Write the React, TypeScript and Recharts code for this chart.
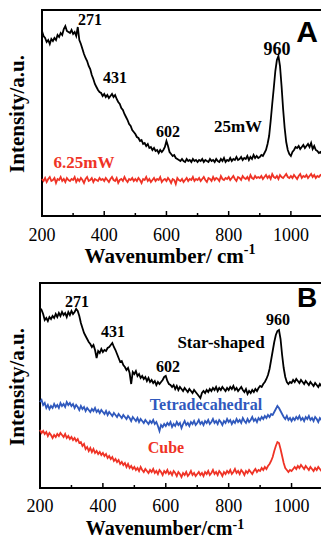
import React from 'react';
import { LineChart, Line, XAxis, YAxis, ReferenceArea } from 'recharts';

// wavenumber grid, cm^-1 (every 5 from 200 to 1100)
const wavenumbers = Array.from({ length: 181 }, (_, i) => 200 + i * 5);

// Panel A, 25mW (intensity, a.u.)
const power25 = [
  185, 180, 178, 174, 176, 172, 177, 175, 178, 176, 181, 179, 183, 181, 187, 190, 185, 184, 183, 186,
  182, 184, 180, 189, 176, 172, 167, 162, 158, 155, 150, 147, 141, 137, 132, 129, 126, 124, 123, 120,
  122, 119, 121, 118, 120, 122, 119, 121, 117, 114, 112, 108, 106, 102, 99, 96, 92, 90, 86, 84,
  82, 79, 78, 75, 76, 72, 73, 70, 72, 68, 69, 66, 68, 65, 66, 63, 66, 64, 66, 69,
  75, 70, 64, 62, 60, 61, 58, 57, 56, 55, 57, 55, 54, 57, 55, 56, 54, 57, 55, 56,
  54, 56, 55, 57, 54, 56, 55, 54, 57, 55, 56, 54, 57, 55, 54, 57, 55, 58, 54, 56,
  55, 58, 55, 57, 56, 59, 56, 57, 59, 56, 58, 57, 60, 56, 59, 57, 61, 58, 60, 58,
  59, 61, 60, 63, 66, 72, 80, 95, 112, 128, 145, 156, 160, 150, 130, 107, 88, 74, 66, 62,
  60, 64, 66, 69, 68, 70, 67, 69, 71, 68, 70, 72, 69, 73, 67, 70, 66, 65, 63, 64,
  62,
];

// Panel A, 6.25mW
const power625 = [
  37, 35, 38, 34, 37, 39, 35, 36, 38, 33, 37, 36, 39, 35, 37, 34, 38, 36, 35, 37,
  36, 39, 34, 37, 35, 38, 36, 33, 37, 39, 35, 36, 38, 34, 37, 36, 35, 38, 36, 37,
  35, 38, 36, 34, 37, 39, 36, 35, 38, 33, 36, 37, 35, 39, 36, 34, 37, 36, 38, 35,
  37, 35, 38, 36, 33, 37, 36, 39, 35, 37, 34, 36, 38, 35, 37, 36, 39, 34, 36, 37,
  35, 38, 36, 33, 37, 36, 32, 38, 36, 35, 37, 34, 36, 38, 35, 37, 36, 39, 35, 37,
  36, 38, 35, 37, 39, 36, 34, 38, 37, 35, 39, 36, 38, 37, 35, 40, 37, 36, 38, 37,
  39, 36, 38, 40, 37, 35, 39, 38, 36, 40, 38, 37, 39, 36, 41, 38, 37, 40, 38, 39,
  38, 40, 37, 39, 41, 38, 40, 37, 42, 39, 38, 40, 37, 41, 39, 38, 40, 42, 39, 38,
  40, 38, 41, 39, 37, 40, 42, 38, 40, 39, 41, 38, 40, 42, 39, 41, 38, 40, 39, 41,
  40,
];

// Panel B, star-shaped
const starShaped = [
  180, 178, 174, 168, 170, 167, 171, 169, 172, 170, 174, 171, 175, 172, 176, 173, 175, 171, 176, 173,
  177, 174, 176, 179, 177, 172, 165, 160, 155, 152, 149, 146, 144, 141, 143, 138, 130, 137, 135, 139,
  136, 138, 137, 140, 141, 143, 145, 141, 138, 134, 130, 126, 127, 123, 121, 118, 120, 115, 104, 116,
  114, 117, 112, 114, 110, 112, 109, 111, 107, 110, 106, 108, 105, 107, 103, 106, 104, 106, 108, 111,
  112, 107, 104, 103, 101, 103, 99, 102, 98, 101, 99, 97, 100, 98, 96, 99, 97, 95, 98, 96,
  94, 92, 90, 95, 97, 95, 98, 96, 99, 97, 100, 98, 101, 97, 100, 98, 101, 99, 97, 100,
  98, 101, 99, 102, 98, 100, 97, 99, 101, 98, 96, 99, 94, 97, 95, 98, 96, 99, 97, 100,
  102, 101, 104, 106, 109, 113, 119, 128, 137, 146, 153, 157, 158, 149, 133, 120, 111, 106, 104, 106,
  105, 108, 106, 109, 107, 105, 108, 106, 104, 107, 105, 103, 106, 104, 102, 105, 103, 101, 104, 102,
  103,
];

// Panel B, tetradecahedral
const tetradecahedral = [
  86, 88, 83, 85, 80, 83, 79, 82, 80, 84, 81, 83, 80, 85, 82, 84, 81, 86, 83, 85,
  82, 84, 80, 83, 81, 78, 82, 79, 81, 77, 80, 78, 76, 79, 77, 80, 76, 78, 75, 78,
  76, 74, 77, 73, 76, 74, 72, 75, 73, 71, 74, 72, 70, 73, 71, 69, 72, 70, 67, 71,
  69, 67, 70, 66, 69, 67, 65, 68, 66, 64, 67, 65, 68, 64, 66, 62, 57, 63, 61, 64,
  62, 65, 63, 66, 61, 64, 62, 66, 63, 65, 60, 64, 67, 63, 65, 62, 66, 64, 67, 63,
  65, 68, 64, 66, 63, 67, 65, 68, 64, 66, 69, 65, 67, 64, 68, 66, 63, 67, 65, 69,
  66, 68, 64, 67, 65, 69, 66, 68, 65, 70, 67, 65, 69, 66, 68, 71, 67, 69, 66, 70,
  68, 71, 69, 72, 70, 73, 71, 74, 73, 76, 79, 82, 80, 77, 74, 71, 69, 72, 68, 70,
  67, 70, 68, 71, 69, 72, 68, 70, 67, 71, 69, 72, 68, 70, 67, 71, 69, 66, 70, 68,
  69,
];

// Panel B, cube
const cube = [
  58, 55, 57, 54, 56, 52, 55, 53, 50, 53, 51, 54, 52, 55, 53, 51, 54, 50, 52, 49,
  51, 48, 50, 47, 49, 45, 46, 42, 44, 39, 41, 37, 40, 36, 39, 35, 37, 34, 36, 33,
  35, 32, 34, 30, 32, 29, 31, 27, 29, 26, 28, 24, 26, 23, 25, 21, 24, 20, 22, 19,
  21, 18, 20, 17, 21, 18, 16, 19, 17, 15, 18, 16, 19, 15, 17, 14, 18, 16, 13, 17,
  15, 18, 14, 16, 13, 17, 15, 12, 16, 14, 11, 15, 13, 16, 12, 14, 17, 13, 15, 12,
  14, 16, 13, 15, 12, 16, 14, 17, 13, 15, 18, 14, 16, 13, 17, 15, 12, 16, 14, 17,
  15, 18, 14, 16, 19, 15, 17, 14, 18, 16, 13, 17, 15, 18, 16, 14, 17, 19, 16, 18,
  17, 20, 18, 21, 19, 22, 24, 27, 31, 37, 42, 46, 45, 39, 32, 25, 20, 18, 16, 18,
  17, 19, 21, 19, 22, 20, 23, 21, 19, 22, 20, 18, 21, 19, 17, 20, 18, 21, 19, 17,
  19,
];

const xTicks = [200, 300, 400, 500, 600, 700, 800, 900, 1000];
const xLabels = [200, 400, 600, 800, 1000];

const dataA = wavenumbers.map((w, i) => ({ w, p25: power25[i], p625: power625[i] }));
const dataB = wavenumbers.map((w, i) => ({
  w,
  star: starShaped[i],
  tetra: tetradecahedral[i],
  cube: cube[i],
}));

const SERIF = '"Liberation Serif", "Times New Roman", serif';
const SANS = '"Liberation Sans", Arial, sans-serif';
const RED = '#ef3326';
const BLUE = '#3059bd';

const Tick = (props: any) => {
  const { x, y, payload, gap } = props;
  const major = xLabels.includes(payload.value);
  return (
    <g>
      <line x1={x} x2={x} y1={y} y2={y - (major ? 5 : 3)} stroke="#000" strokeWidth={1.5} />
      {major && (
        <text x={x} y={y + gap} textAnchor="middle" style={{ fontFamily: SERIF }} fontSize={18} fill="#000">
          {payload.value}
        </text>
      )}
    </g>
  );
};

const Note = ({ x, y, size = 16, color = '#000', children }: any) => (
  <text x={x} y={y} textAnchor="middle" style={{ fontFamily: SERIF }} fontWeight="bold" fontSize={size} fill={color}>
    {children}
  </text>
);

const YTitle = ({ cy }: { cy: number }) => (
  <text
    x={17}
    y={cy}
    transform={`rotate(-90 17 ${cy})`}
    textAnchor="middle"
    dominantBaseline="central"
    style={{ fontFamily: SERIF }}
    fontWeight="bold"
    fontSize={21}
    fill="#000"
  >
    Intensity/a.u.
  </text>
);

const XTitle = ({ x, y, text, size = 21, rise = 9 }: { x: number; y: number; text: string; size?: number; rise?: number }) => (
  <text x={x} y={y} textAnchor="middle" style={{ fontFamily: SERIF }} fontWeight="bold" fontSize={size} fill="#000">
    <tspan>{text}</tspan>
    <tspan dy={-rise} fontSize={14}>-1</tspan>
  </text>
);

const PanelA = () => (
  <LineChart width={325} height={270} data={dataA} margin={{ top: 10, right: 3, left: 42, bottom: 0 }}>
    <XAxis
      dataKey="w"
      type="number"
      domain={[200, 1100]}
      ticks={xTicks}
      interval={0}
      tickLine={false}
      tickSize={0}
      tickMargin={0}
      height={54}
      axisLine={{ stroke: '#000', strokeWidth: 2 }}
      tick={<Tick gap={25} />}
    />
    <YAxis hide domain={[0, 206]} />
    <Line dataKey="p625" stroke={RED} strokeWidth={1.8} dot={false} isAnimationActive={false} />
    <Line dataKey="p25" stroke="#000" strokeWidth={1.8} dot={false} isAnimationActive={false} />
    <ReferenceArea x1={200} x2={1100} y1={0} y2={206} fill="none" stroke="#000" strokeWidth={2} />
    <YTitle cy={114} />
    <Note x={90} y={25} size={16}>271</Note>
    <Note x={115} y={83} size={16}>431</Note>
    <Note x={168} y={137} size={16}>602</Note>
    <Note x={277} y={55} size={18}>960</Note>
    <Note x={238} y={132} size={17}>25mW</Note>
    <Note x={84} y={168} size={17} color={RED}>6.25mW</Note>
    <text x={307} y={42} textAnchor="middle" style={{ fontFamily: SANS }} fontWeight="bold" fontSize={30} fill="#000">
      A
    </text>
    <XTitle x={170} y={263} text="Wavenumber/ cm" />
  </LineChart>
);

const PanelB = () => (
  <LineChart width={325} height={269} data={dataB} margin={{ top: 13, right: 2, left: 40, bottom: 0 }}>
    <XAxis
      dataKey="w"
      type="number"
      domain={[200, 1100]}
      ticks={xTicks}
      interval={0}
      tickLine={false}
      tickSize={0}
      tickMargin={0}
      height={51}
      axisLine={{ stroke: '#000', strokeWidth: 2 }}
      tick={<Tick gap={24} />}
    />
    <YAxis hide domain={[0, 205]} />
    <Line dataKey="cube" stroke={RED} strokeWidth={1.8} dot={false} isAnimationActive={false} />
    <Line dataKey="tetra" stroke={BLUE} strokeWidth={1.8} dot={false} isAnimationActive={false} />
    <Line dataKey="star" stroke="#000" strokeWidth={1.8} dot={false} isAnimationActive={false} />
    <ReferenceArea x1={200} x2={1100} y1={0} y2={205} fill="none" stroke="#000" strokeWidth={2} />
    <YTitle cy={117} />
    <Note x={77} y={37} size={16}>271</Note>
    <Note x={113} y={67} size={16}>431</Note>
    <Note x={168} y={102} size={16}>602</Note>
    <Note x={278} y={55} size={16}>960</Note>
    <Note x={221} y={78} size={17}>Star-shaped</Note>
    <Note x={206} y={140} size={16} color={BLUE}>Tetradecahedral</Note>
    <Note x={166} y={183} size={16} color={RED}>Cube</Note>
    <text x={307} y={37} textAnchor="middle" style={{ fontFamily: SANS }} fontWeight="bold" fontSize={28} fill="#000">
      B
    </text>
    <XTitle x={165} y={265} size={20} rise={6} text="Wavenumber/cm" />
  </LineChart>
);

export default function App() {
  return (
    <div
      style={{
        position: 'absolute',
        left: 0,
        top: 0,
        width: 321,
        height: 539,
        overflow: 'hidden',
        background: '#fff',
      }}
    >
      <div style={{ position: 'absolute', left: 0, top: 0 }}>
        <PanelA />
      </div>
      <div style={{ position: 'absolute', left: 0, top: 270 }}>
        <PanelB />
      </div>
    </div>
  );
}
